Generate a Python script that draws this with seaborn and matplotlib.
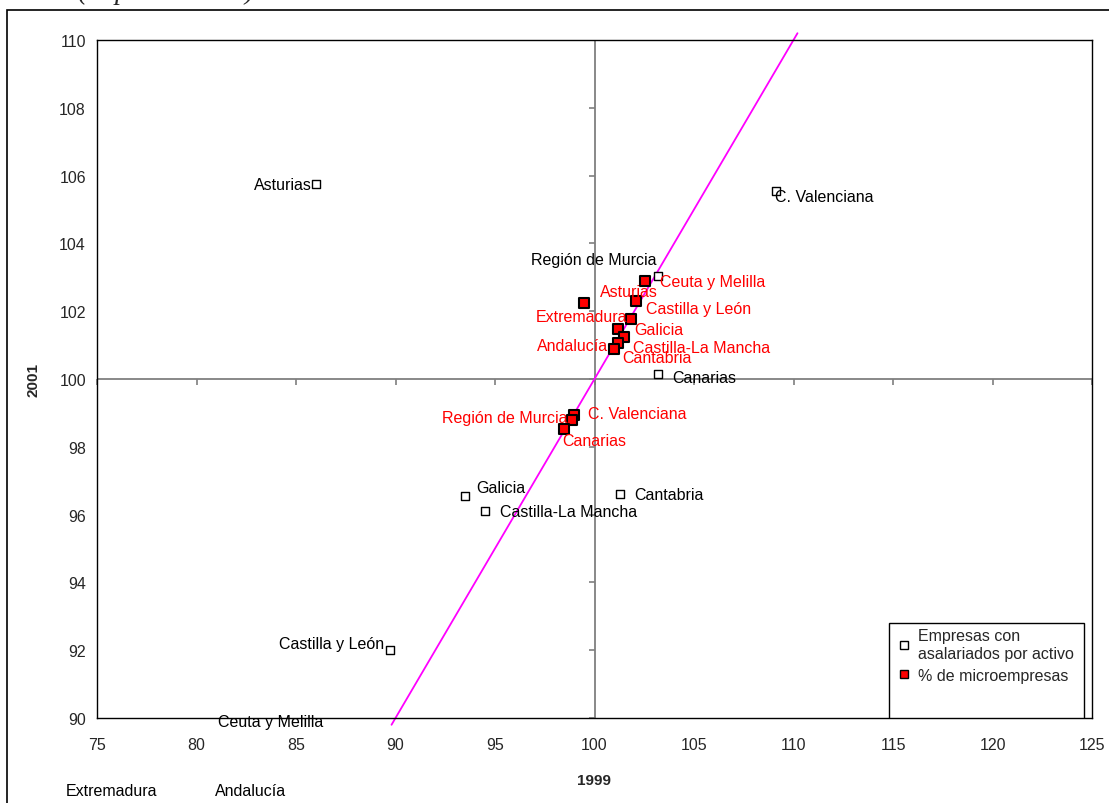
import numpy as np
import matplotlib.pyplot as plt
import seaborn as sns
from matplotlib.patches import Rectangle
from matplotlib.lines import Line2D

# datos: índice 1999 (x) y 2001 (y), España = 100
emp_regions = ['Asturias', 'C. Valenciana', 'Región de Murcia', 'Canarias', 'Cantabria',
               'Galicia', 'Castilla-La Mancha', 'Castilla y León', 'Ceuta y Melilla',
               'Extremadura', 'Andalucía']
emp_1999 = [86.0, 109.1, 103.2, 103.2, 101.3, 93.5, 94.5, 89.7, 83.7, 75.75, 82.7]
emp_2001 = [105.75, 105.55, 103.05, 100.15, 96.6, 96.55, 96.1, 92.0, 89.5, 87.85, 87.85]

micro_regions = ['Ceuta y Melilla', 'Extremadura', 'Asturias', 'Castilla y León', 'Galicia',
                 'Castilla-La Mancha', 'Andalucía', 'Cantabria', 'C. Valenciana',
                 'Región de Murcia', 'Canarias']
micro_1999 = [102.54, 99.47, 102.09, 101.83, 101.18, 101.48, 101.18, 100.98, 98.97, 98.87, 98.47]
micro_2001 = [102.89, 102.24, 102.30, 101.77, 101.47, 101.24, 101.06, 100.88, 98.94, 98.79, 98.53]

ref_line = [89.8, 110.2]
x_ticks = list(range(75, 126, 5))
y_ticks = list(range(90, 111, 2))

series_names = ['Empresas con\nasalariados por activo', '% de microempresas']

# posiciones de etiquetas (px): dx, dy, alineación
emp_offsets = [(-4, 0, 'right'), (-1, -6, 'left'), (-2, 16, 'right'), (14, -4, 'left'),
               (14, 0, 'left'), (11, 8, 'left'), (15, 0, 'left'), (-5, 7, 'right'),
               (0, 13, 'center'), (0, 0, 'center'), (0, 0, 'center')]
micro_offsets = [(15, 0, 'left'), (-2, -13, 'center'), (-7, 10, 'center'), (15, 10, 'left'),
                 (16, 0, 'left'), (9, -11, 'left'), (-10, -2, 'right'), (8, -8, 'left'),
                 (14, 1, 'left'), (-5, 3, 'right'), (-2, -12, 'left')]

sns.set_style('white')
plt.rcParams['font.family'] = ['Liberation Sans', 'DejaVu Sans']

fig = plt.figure(figsize=(11.09, 8.04), dpi=100)
ax = fig.add_axes([97 / 1109, 1 - 719 / 804, 995 / 1109, 678 / 804])

# marco exterior y título cortado
fig.patches.append(Rectangle((7 / 1109, -0.1), 1.2, 0.1 + 1 - 11 / 804, transform=fig.transFigure,
                             fill=False, edgecolor='black', linewidth=1.2))
fig.text(78 / 1109, 1 + 1 / 804, '(España = 100)', fontsize=20, style='italic',
         family=['Liberation Serif', 'DejaVu Serif'], va='baseline', ha='left')

# ejes cruzados en 100
ax.axvline(100, color='#7f7f7f', lw=1.3, zorder=1)
ax.axhline(100, color='#7f7f7f', lw=1.3, zorder=1)
ax.plot(np.full(len(y_ticks), 100), y_ticks, ls='', marker=0, markersize=4,
        color='#7f7f7f', mew=1.2, zorder=1)
ax.plot(x_ticks, np.full(len(x_ticks), 100), ls='', marker=3, markersize=4,
        color='#7f7f7f', mew=1.2, zorder=1, clip_on=False)

ax.plot(ref_line, ref_line, color='#FF00FF', lw=1.3, zorder=2, clip_on=False)

sns.scatterplot(x=emp_1999, y=emp_2001, marker='s', s=30, color='white',
                edgecolor='black', linewidth=1, ax=ax, zorder=3)
sns.scatterplot(x=micro_1999, y=micro_2001, marker='s', s=48, color='#FF0000',
                edgecolor='black', linewidth=1.5, ax=ax, zorder=3)

for name, x, y, (dx, dy, ha) in zip(emp_regions, emp_1999, emp_2001, emp_offsets):
    ax.annotate(name, (x, y), xytext=(dx, dy), textcoords='offset pixels', ha=ha,
                va='center', fontsize=11.5, color='black', zorder=4, annotation_clip=False)
for name, x, y, (dx, dy, ha) in zip(micro_regions, micro_1999, micro_2001, micro_offsets):
    ax.annotate(name, (x, y), xytext=(dx, dy), textcoords='offset pixels', ha=ha,
                va='center', fontsize=11.5, color='#FF0000', zorder=4, annotation_clip=False)

ax.set_xlim(75, 125)
ax.set_ylim(90, 110)
ax.set_xticks(x_ticks)
ax.set_yticks(y_ticks)
ax.tick_params(axis='x', length=0, pad=14, labelsize=11.5)
ax.tick_params(axis='y', length=0, pad=8, labelsize=11.5)
for sp in ax.spines.values():
    sp.set_color('black')
    sp.set_linewidth(1.0)

ax.set_xlabel('1999', fontsize=11, fontweight='bold')
ax.set_ylabel('2001', fontsize=11, fontweight='bold')
ax.xaxis.set_label_coords(0.5, -0.081)
ax.yaxis.set_label_coords(-0.057, 0.5)

# leyenda
ax.add_patch(Rectangle((0.796, 0.0), 0.196, 0.14, transform=ax.transAxes,
                       facecolor='white', edgecolor='black', lw=1, zorder=5))
handles = [Line2D([], [], ls='', marker='s', markersize=6, markerfacecolor='white',
                  markeredgecolor='black', mew=1),
           Line2D([], [], ls='', marker='s', markersize=6, markerfacecolor='#FF0000',
                  markeredgecolor='black', mew=1)]
leg = ax.legend(handles, series_names, loc='upper left', bbox_to_anchor=(0.801, 0.138),
                frameon=False, fontsize=11.5, handlelength=0.8, handletextpad=0.5,
                borderaxespad=0, borderpad=0.2, labelspacing=0.45)
for t in leg.get_texts():
    t.set_linespacing(1.25)
leg.set_zorder(6)

fig.savefig('out.png', dpi=100)
